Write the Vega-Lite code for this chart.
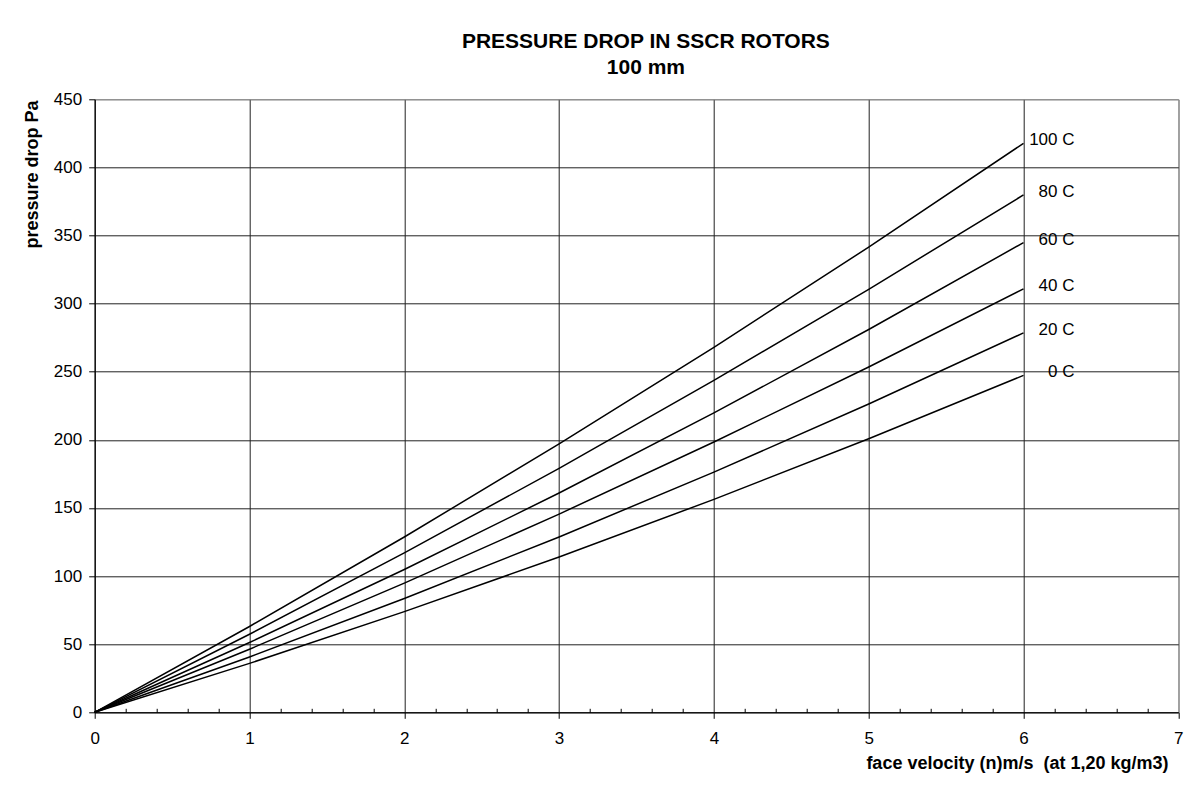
{
  "$schema": "https://vega.github.io/schema/vega-lite/v6.json",
  "autosize": {"type": "none"},
  "padding": {"left": 94.7, "top": 99.3, "right": 18.7, "bottom": 83.7},
  "width": 1083.6,
  "height": 613,
  "background": "white",
  "title": {
    "text": ["PRESSURE DROP IN SSCR ROTORS", "100 mm"],
    "font": "Liberation Sans",
    "fontSize": 21,
    "fontWeight": "bold",
    "color": "#000",
    "anchor": "middle",
    "dx": 9.4,
    "offset": 12,
    "lineHeight": 26.7,
    "frame": "group"
  },
  "data": {
    "values": [
      {"series": "0 C", "velocity": 0, "pa": 0},
      {"series": "0 C", "velocity": 1, "pa": 35.9},
      {"series": "0 C", "velocity": 2, "pa": 73.9},
      {"series": "0 C", "velocity": 3, "pa": 114.0},
      {"series": "0 C", "velocity": 4, "pa": 156.3},
      {"series": "0 C", "velocity": 5, "pa": 200.8},
      {"series": "0 C", "velocity": 6, "pa": 247.3},
      {"series": "20 C", "velocity": 0, "pa": 0},
      {"series": "20 C", "velocity": 1, "pa": 40.6},
      {"series": "20 C", "velocity": 2, "pa": 83.5},
      {"series": "20 C", "velocity": 3, "pa": 128.7},
      {"series": "20 C", "velocity": 4, "pa": 176.3},
      {"series": "20 C", "velocity": 5, "pa": 226.3},
      {"series": "20 C", "velocity": 6, "pa": 278.5},
      {"series": "40 C", "velocity": 0, "pa": 0},
      {"series": "40 C", "velocity": 1, "pa": 46.3},
      {"series": "40 C", "velocity": 2, "pa": 94.8},
      {"series": "40 C", "velocity": 3, "pa": 145.5},
      {"series": "40 C", "velocity": 4, "pa": 198.4},
      {"series": "40 C", "velocity": 5, "pa": 253.5},
      {"series": "40 C", "velocity": 6, "pa": 310.8},
      {"series": "60 C", "velocity": 0, "pa": 0},
      {"series": "60 C", "velocity": 1, "pa": 51.2},
      {"series": "60 C", "velocity": 2, "pa": 104.8},
      {"series": "60 C", "velocity": 3, "pa": 161.0},
      {"series": "60 C", "velocity": 4, "pa": 219.8},
      {"series": "60 C", "velocity": 5, "pa": 281.0},
      {"series": "60 C", "velocity": 6, "pa": 344.8},
      {"series": "80 C", "velocity": 0, "pa": 0},
      {"series": "80 C", "velocity": 1, "pa": 57.3},
      {"series": "80 C", "velocity": 2, "pa": 117.0},
      {"series": "80 C", "velocity": 3, "pa": 179.1},
      {"series": "80 C", "velocity": 4, "pa": 243.6},
      {"series": "80 C", "velocity": 5, "pa": 310.5},
      {"series": "80 C", "velocity": 6, "pa": 379.8},
      {"series": "100 C", "velocity": 0, "pa": 0},
      {"series": "100 C", "velocity": 1, "pa": 63.0},
      {"series": "100 C", "velocity": 2, "pa": 128.7},
      {"series": "100 C", "velocity": 3, "pa": 197.0},
      {"series": "100 C", "velocity": 4, "pa": 267.9},
      {"series": "100 C", "velocity": 5, "pa": 341.5},
      {"series": "100 C", "velocity": 6, "pa": 417.7}
    ]
  },
  "encoding": {
    "x": {
      "field": "velocity",
      "type": "quantitative",
      "scale": {"domain": [0, 7], "nice": false, "zero": true},
      "axis": {
        "title": "face velocity (n)m/s\u00a0 (at 1,20 kg/m3)",
        "titleFont": "Liberation Sans",
        "titleFontSize": 18,
        "titleFontWeight": "bold",
        "titleColor": "#000",
        "titleAnchor": null,
        "titleAlign": "right",
        "titleBaseline": "alphabetic",
        "titleX": 1073.3,
        "titleY": 56,
        "values": [0, 0.2, 0.4, 0.6, 0.8, 1, 1.2, 1.4, 1.6, 1.8, 2, 2.2, 2.4, 2.6, 2.8, 3, 3.2, 3.4, 3.6, 3.8, 4, 4.2, 4.4, 4.6, 4.8, 5, 5.2, 5.4, 5.6, 5.8, 6, 6.2, 6.4, 6.6, 6.8, 7],
        "format": ".0f",
        "labelExpr": "abs(datum.value - round(datum.value)) < 0.01 ? datum.label : ''",
        "labelFont": "Liberation Sans",
        "labelFontSize": 17,
        "labelColor": "#000",
        "labelPadding": 12,
        "labelFlush": false,
        "labelOverlap": false,
        "tickColor": "#000",
        "tickSize": {"condition": {"test": "abs(datum.value - round(datum.value)) > 0.01", "value": -4}, "value": 6},
        "domainColor": "#000",
        "domainWidth": 1,
        "grid": true,
        "gridColor": {"condition": {"test": "datum.value > 6.99", "value": "#888888"}, "value": "#222222"},
        "gridOpacity": {"condition": {"test": "abs(datum.value - round(datum.value)) > 0.01", "value": 0}, "value": 1}
      }
    },
    "y": {
      "field": "pa",
      "type": "quantitative",
      "scale": {"domain": [0, 450], "nice": false},
      "axis": {
        "title": "pressure drop Pa",
        "titleFont": "Liberation Sans",
        "titleFontSize": 18,
        "titleFontWeight": "bold",
        "titleColor": "#000",
        "titleAnchor": null,
        "titleAngle": 270,
        "titleAlign": "right",
        "titleBaseline": "alphabetic",
        "titleX": -56.7,
        "titleY": 0.7,
        "values": [0, 50, 100, 150, 200, 250, 300, 350, 400, 450],
        "labelFont": "Liberation Sans",
        "labelFontSize": 17,
        "labelColor": "#000",
        "labelPadding": 7,
        "tickColor": "#000",
        "tickSize": 6,
        "domainColor": "#000",
        "grid": true,
        "gridColor": {"condition": {"test": "datum.value > 449", "value": "#888888"}, "value": "#222222"}
      }
    }
  },
  "layer": [
    {
      "mark": {"type": "line", "color": "#000", "strokeWidth": 1.5},
      "encoding": {"detail": {"field": "series"}}
    },
    {
      "transform": [{"filter": "datum.velocity == 6"}],
      "mark": {"type": "text", "align": "right", "baseline": "middle", "dx": 51, "dy": -3, "font": "Liberation Sans", "fontSize": 17, "color": "#000"},
      "encoding": {"text": {"field": "series"}}
    }
  ],
  "config": {
    "view": {"stroke": "#888888", "strokeWidth": 1}
  }
}
